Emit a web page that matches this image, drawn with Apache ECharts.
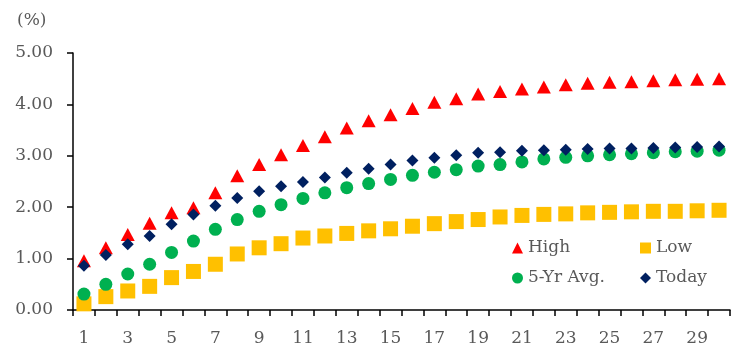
<!DOCTYPE html>
<html>
<head>
<meta charset="utf-8">
<script src="https://cdn.jsdelivr.net/npm/echarts@6/dist/echarts.min.js"></script>
<style>html,body{margin:0;padding:0;background:#fff;}#c{width:738px;height:347px;}</style>
</head>
<body>
<div id="c"></div>
<script>
const categories = Array.from({length: 30}, (_, i) => String(i + 1));
const high = [0.96,1.21,1.47,1.69,1.89,1.99,2.28,2.61,2.83,3.02,3.20,3.37,3.54,3.68,3.80,3.92,4.04,4.11,4.20,4.25,4.30,4.34,4.38,4.41,4.43,4.44,4.46,4.48,4.49,4.50];
const low = [0.12,0.26,0.37,0.46,0.63,0.75,0.89,1.09,1.21,1.29,1.40,1.44,1.49,1.54,1.58,1.63,1.68,1.72,1.76,1.81,1.84,1.86,1.87,1.89,1.90,1.91,1.92,1.92,1.93,1.94];
const avg5 = [0.31,0.50,0.70,0.89,1.12,1.34,1.57,1.76,1.92,2.05,2.17,2.28,2.38,2.46,2.54,2.62,2.68,2.73,2.80,2.83,2.88,2.94,2.97,3.00,3.02,3.04,3.06,3.08,3.09,3.11];
const today = [0.86,1.07,1.28,1.44,1.67,1.86,2.03,2.18,2.31,2.41,2.49,2.58,2.67,2.75,2.83,2.91,2.96,3.01,3.06,3.07,3.10,3.11,3.12,3.13,3.14,3.14,3.15,3.16,3.17,3.18];
const yTicks = [0, 1, 2, 3, 4, 5];

const FONT = 'DejaVu Serif';
const GRAY = '#595959';
const chart = echarts.init(document.getElementById('c'));
const legendText = {color: GRAY, fontFamily: FONT, fontSize: 17, lineHeight: 20};
function legendItems(a, b) {
  return [{name: a, textStyle: {width: 100}}, {name: b, textStyle: {width: 60}}];
}
chart.setOption({
  animation: false,
  grid: {left: 73, right: 8, top: 53, bottom: 36},
  graphic: [{type: 'text', left: 17, top: 12, style: {text: '(%)', fill: GRAY, font: '17px "DejaVu Serif"'}}],
  legend: [
    {orient: 'horizontal', data: legendItems('High', 'Low'), left: 507, top: 233, itemWidth: 11, itemHeight: 11, itemGap: 12, textStyle: legendText},
    {orient: 'horizontal', data: legendItems('5-Yr Avg.', 'Today'), left: 507, top: 263, itemWidth: 11, itemHeight: 11, itemGap: 12, textStyle: legendText}
  ],
  xAxis: {
    type: 'category', data: categories, boundaryGap: true,
    axisLine: {lineStyle: {color: '#000', width: 1.5}},
    axisTick: {show: true, interval: 0, length: 6, lineStyle: {color: '#000', width: 1.5}},
    axisLabel: {interval: 1, color: GRAY, fontFamily: FONT, fontSize: 17, margin: 20},
    splitLine: {show: false}
  },
  yAxis: {
    type: 'value', min: yTicks[0], max: yTicks[yTicks.length - 1], interval: 1,
    axisLine: {show: true, lineStyle: {color: '#000', width: 1.5}},
    axisTick: {show: true, length: 6, lineStyle: {color: '#000', width: 1.5}},
    axisLabel: {color: GRAY, fontFamily: FONT, fontSize: 17, margin: 20, formatter: v => v.toFixed(2)},
    splitLine: {show: false}
  },
  series: [
    {name: 'High', type: 'scatter', data: high, symbol: 'triangle', symbolSize: [14, 13], itemStyle: {color: '#FF0000', opacity: 1}},
    {name: 'Low', type: 'scatter', data: low, symbol: 'rect', symbolSize: 15, itemStyle: {color: '#FFC000', opacity: 1}},
    {name: '5-Yr Avg.', type: 'scatter', data: avg5, symbol: 'circle', symbolSize: 13, itemStyle: {color: '#00B050', opacity: 1}},
    {name: 'Today', type: 'scatter', data: today, symbol: 'diamond', symbolSize: 12, itemStyle: {color: '#002060', opacity: 1}}
  ]
});
</script>
</body>
</html>
